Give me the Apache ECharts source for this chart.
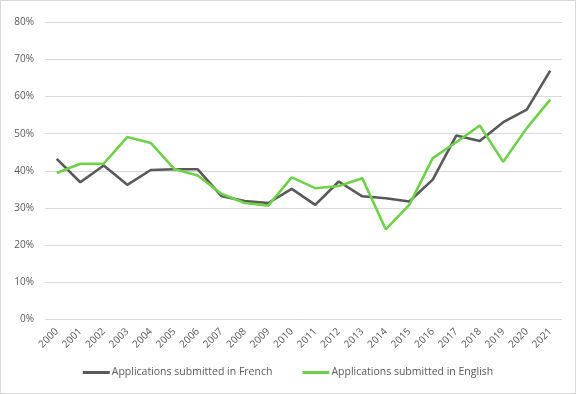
<!DOCTYPE html>
<html><head><meta charset="utf-8">
<script src="https://cdn.jsdelivr.net/npm/echarts@6/dist/echarts.min.js"></script>
<style>html,body{margin:0;padding:0;background:#fff}#c{width:576px;height:394px;box-sizing:border-box;border:1px solid #d9d9d9}</style>
</head><body><div id="c"></div>
<script>
const years = ['2000','2001','2002','2003','2004','2005','2006','2007','2008','2009','2010','2011','2012','2013','2014','2015','2016','2017','2018','2019','2020','2021'];
const french = [43.2,36.9,41.4,36.2,40.2,40.4,40.4,33.2,31.8,31.3,35.1,30.8,37.1,33.1,32.6,31.7,37.6,49.5,48.0,53.1,56.5,67.0];
const english = [39.4,41.9,41.9,49.1,47.5,40.5,38.7,33.8,31.3,30.6,38.2,35.3,35.9,38.0,24.2,30.8,43.4,47.7,52.2,42.4,51.5,59.2];
const seriesNames = ['Applications submitted in French','Applications submitted in English'];
const chart = echarts.init(document.getElementById('c'), null, {renderer:'canvas'});
const font = 'Open Sans';
chart.setOption({
  animation:false,
  color:['#595959','#6fd14a'],
  grid:{left:44,right:13,top:21.5,bottom:74},
  legend:{bottom:10,left:'center',itemWidth:27,itemHeight:3,itemGap:30,icon:'rect',
    textStyle:{color:'#595959',fontFamily:font,fontSize:10.5,padding:[0,0,0,-3]},
    data:seriesNames},
  xAxis:{type:'category',data:years,boundaryGap:true,
    axisLine:{show:false},axisTick:{show:false},
    axisLabel:{rotate:45,color:'#595959',fontFamily:font,fontSize:10,interval:0,margin:11}},
  yAxis:{type:'value',min:0,max:80,interval:10,
    axisLine:{show:false},axisTick:{show:false},
    splitLine:{lineStyle:{color:'#d9d9d9',width:1}},
    axisLabel:{formatter:'{value}%',color:'#595959',fontFamily:font,fontSize:10,margin:11}},
  series:[
    {name:seriesNames[0],type:'line',data:french,symbol:'none',lineStyle:{width:2.6,color:'#595959'},itemStyle:{color:'#595959'}},
    {name:seriesNames[1],type:'line',data:english,symbol:'none',lineStyle:{width:2.6,color:'#6fd14a'},itemStyle:{color:'#6fd14a'}}
  ]
});
</script></body></html>
